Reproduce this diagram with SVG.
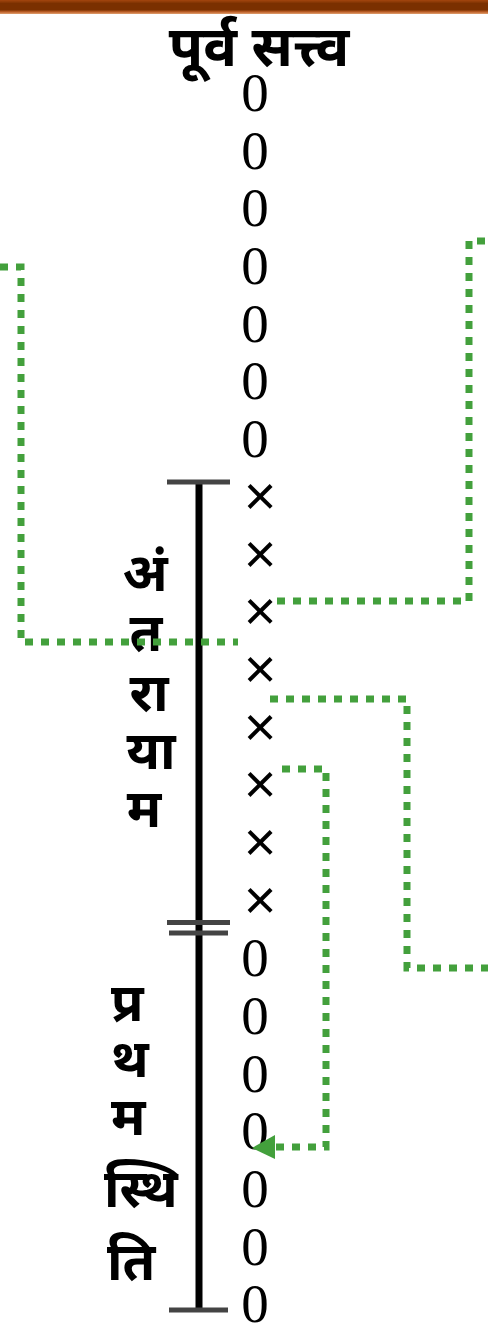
<svg xmlns="http://www.w3.org/2000/svg" width="488" height="1340" viewBox="0 0 488 1340">
<style>
.dev{font-family:"Noto Sans Devanagari","Lohit Devanagari","Noto Sans","FreeSans",sans-serif;font-size:53px;font-weight:bold;fill:#000}
.z{font-family:"Liberation Serif",serif;font-size:55px;fill:#000;text-anchor:middle}
.x{font-family:"Liberation Sans",sans-serif;font-size:56px;fill:#000;text-anchor:middle}
.cap{stroke:#444;stroke-width:5;fill:none}
.g{stroke:#43a03c;stroke-width:7;fill:none;stroke-dasharray:8 8}
</style>
<defs>
<linearGradient id="bar" x1="0" y1="0" x2="0" y2="1">
<stop offset="0" stop-color="#a4460e"/>
<stop offset="0.25" stop-color="#7a3000"/>
<stop offset="0.7" stop-color="#7a3000"/>
<stop offset="0.85" stop-color="#c0622a"/>
<stop offset="1" stop-color="#e0a070"/>
</linearGradient>
</defs>
<rect x="0" y="0" width="488" height="14" fill="url(#bar)"/>
<g id="title"><text class="dev" x="259" y="66" text-anchor="middle" style="font-size:56px">पूर्व सत्त्व</text></g>
<g id="column">
<text class="z" x="255" y="111">0</text>
<text class="z" x="255" y="168.7">0</text>
<text class="z" x="255" y="226.3">0</text>
<text class="z" x="255" y="284">0</text>
<text class="z" x="255" y="341.7">0</text>
<text class="z" x="255" y="399.3">0</text>
<text class="z" x="255" y="457">0</text>
<text class="x" x="260" y="515">×</text>
<text class="x" x="260" y="572.7">×</text>
<text class="x" x="260" y="630.3">×</text>
<text class="x" x="260" y="688">×</text>
<text class="x" x="260" y="745.7">×</text>
<text class="x" x="260" y="803.3">×</text>
<text class="x" x="260" y="861">×</text>
<text class="x" x="260" y="918.7">×</text>
<text class="z" x="255" y="976.3">0</text>
<text class="z" x="255" y="1034">0</text>
<text class="z" x="255" y="1091.7">0</text>
<text class="z" x="255" y="1149.3">0</text>
<text class="z" x="255" y="1207">0</text>
<text class="z" x="255" y="1264.7">0</text>
<text class="z" x="255" y="1322.3">0</text>
</g>
<g id="scale">
<line x1="199" y1="482" x2="199" y2="1310" stroke="#000" stroke-width="7"/>
<line class="cap" x1="167" y1="482" x2="230" y2="482"/>
<line class="cap" x1="167" y1="922.5" x2="230" y2="922.5"/>
<line class="cap" x1="169" y1="933" x2="228" y2="933"/>
<line class="cap" x1="169" y1="1310" x2="228" y2="1310"/>
</g>
<g id="antaraayaam">
<text class="dev" x="145" y="591" text-anchor="middle">अं</text>
<text class="dev" x="146" y="651" text-anchor="middle">त</text>
<text class="dev" x="149" y="711" text-anchor="middle">रा</text>
<text class="dev" x="151" y="769" text-anchor="middle">या</text>
<text class="dev" x="144" y="827" text-anchor="middle">म</text>
</g>
<g id="prathamsthiti">
<text class="dev" x="111" y="1021">प्र</text>
<text class="dev" x="111" y="1077">थ</text>
<text class="dev" x="111" y="1135">म</text>
<text class="dev" x="104" y="1207">स्थि</text>
<text class="dev" x="107" y="1280">ति</text>
</g>
<g id="connectors">
<polyline class="g" points="0,267 21,267 21,642 238,642"/>
<polyline class="g" points="277,601 469,601 469,241 488,241"/>
<polyline class="g" points="270,699 407,699 407,968 488,968"/>
<polyline class="g" points="282,769 326,769 326,1147 275,1147"/>
<path d="M275,1135 L252,1148 L275,1159 z" fill="#43a03c"/>
</g>
</svg>
